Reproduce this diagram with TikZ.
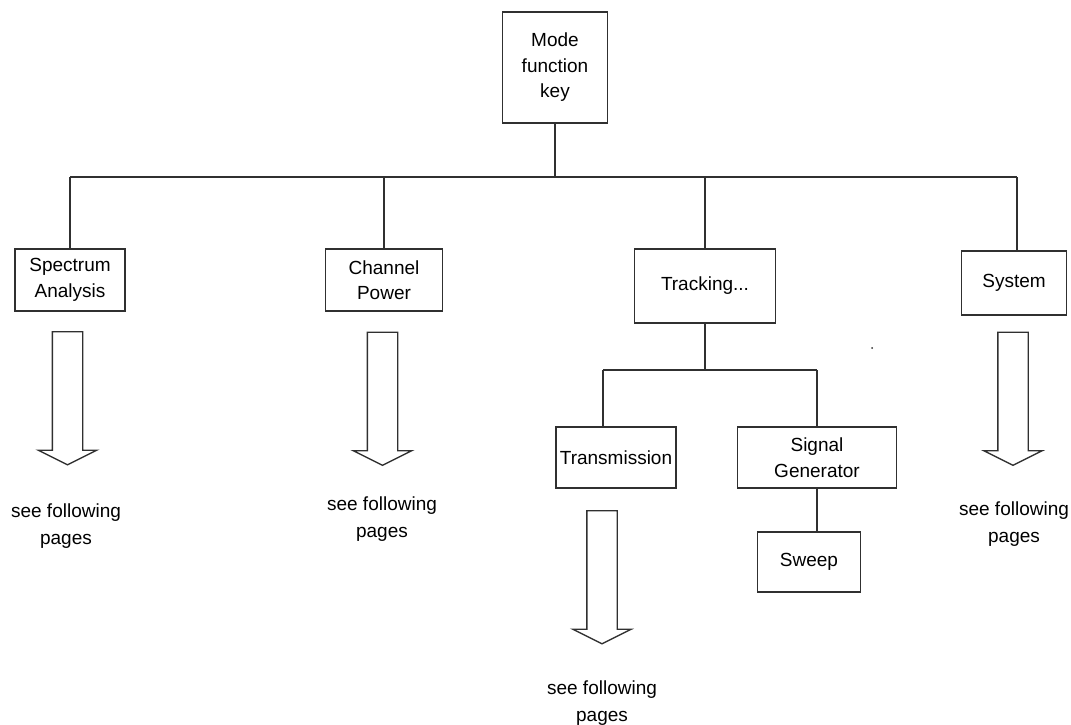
\documentclass[tikz,border=0pt]{standalone}
\usepackage{fontspec}
\setmainfont{Liberation Sans}
\usepackage{tikz}
\usetikzlibrary{shapes.arrows}
\definecolor{inkc}{HTML}{303030}
\tikzset{
  menubox/.style={draw=inkc, line width=1.5pt, rectangle, align=center, inner sep=0pt, font=\fontsize{19}{25.5}\selectfont},
  link/.style={draw=inkc, line width=1.5pt},
  seearrow/.style={single arrow, draw=inkc, line width=1.4pt, shape border rotate=270, minimum height=133pt, inner sep=14.5pt, single arrow head extend=14pt, single arrow tip angle=127},
  seetext/.style={align=center, inner sep=0pt, font=\fontsize{19}{26.5}\selectfont},
}

\begin{document}
\begin{tikzpicture}[x=1pt, y=-1pt]
\useasboundingbox (0,0) rectangle (1071,725);
% top of the tree
\node[menubox, minimum width=105pt, minimum height=111pt] (mode) at (555,67.5) {Mode\\function\\key};
\coordinate (busL) at (70,177);
\coordinate (busR) at (1017,177);
% first row
\node[menubox, minimum width=110pt, minimum height=62pt] (spec) at (70,280) {Spectrum\\Analysis};
\node[menubox, minimum width=117pt, minimum height=62pt] (chan) at (384,280) {Channel\\Power};
\node[menubox, minimum width=141pt, minimum height=74pt] (track) at (705,286) {Tracking...};
\node[menubox, minimum width=105pt, minimum height=64pt] (sys) at (1014,283) {System};
% second row below Tracking
\coordinate (subL) at (603,370);
\coordinate (subR) at (817,370);
\node[menubox, minimum width=120pt, minimum height=61pt] (trans) at (616,457.5) {Transmission};
\node[menubox, minimum width=159pt, minimum height=61pt] (siggen) at (817,457.5) {Signal\\Generator};
\node[menubox, minimum width=103pt, minimum height=60pt] (sweep) at (809,562) {Sweep};
% connectors
\draw[link] (mode) -- (mode |- busL);
\draw[link] (busL) -- (busR);
\draw[link] (busL) -- (busL |- spec.north);
\draw[link] (chan) -- (chan |- busL);
\draw[link] (track) -- (track |- busL);
\draw[link] (busR) -- (busR |- sys.north);
\draw[link] (subL) -- (subR);
\draw[link] (subL -| track.south) -- (track.south);
\draw[link] (subL) -- (subL |- trans.north);
\draw[link] (subR) -- (subR |- siggen.north);
\draw[link] (siggen) -- (siggen |- sweep.north);
% hollow arrows to the following pages
\node[seearrow] (specArr) at (67.5,394.5) {};
\node[seearrow] (chanArr) at (382.5,395) {};
\node[seearrow] (sysArr) at (1013,395) {};
\node[seearrow] (transArr) at (602,573.5) {};
\node[seetext] (specTxt) at (66,526) {see following\\pages};
\node[seetext] (chanTxt) at (382,519) {see following\\pages};
\node[seetext] (sysTxt) at (1014,524) {see following\\pages};
\node[seetext] (transTxt) at (602,703) {see following\\pages};
\fill[inkc] (872,348) circle (1pt);
\end{tikzpicture}
\end{document}
